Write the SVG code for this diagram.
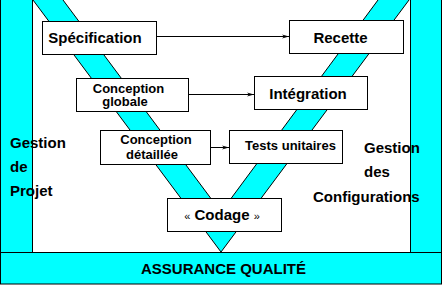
<svg xmlns="http://www.w3.org/2000/svg" width="443" height="285" viewBox="0 0 443 285">
<defs>
<style>
.band{fill:#00ffff;stroke:#000;stroke-width:1}
.box{fill:#fff;stroke:#000;stroke-width:1}
.edge{fill:none;stroke:#000;stroke-width:1}
.big{font-family:"Liberation Sans",Arial,sans-serif;font-weight:bold;font-size:15px;fill:#000}
.small{font-family:"Liberation Sans",Arial,sans-serif;font-weight:bold;font-size:13px;fill:#000}
.mid{text-anchor:middle}
.guil{font-size:11px;font-weight:normal}
.conn{stroke:#000;stroke-width:1;fill:none;marker-end:url(#arr)}
</style>
<marker id="arr" markerUnits="userSpaceOnUse" markerWidth="8" markerHeight="6" refX="7" refY="3" orient="auto">
<path d="M0,1 L7,3 L0,5 L2,3 z" fill="#000"/>
</marker>
</defs>
<rect width="443" height="285" fill="#fff"/>
<g id="gestion-projet-bar"><rect class="band" x="0.5" y="-1" width="32" height="253.5"/></g>
<g id="gestion-config-bar"><rect class="band" x="410.5" y="-1" width="31" height="253.5"/></g>
<g id="v-shape">
<polygon points="33,0 63,0 221,212 378,0 409,0 221,252" fill="#00ffff"/>
<polyline class="edge" points="33,0 221,252 409,0"/>
<polyline class="edge" points="63,0 221,212 378,0"/>
</g>
<g id="assurance-qualite">
<rect class="band" x="0.5" y="252.5" width="441" height="31.5"/>
<text class="big mid" x="223.5" y="274">ASSURANCE QUALITÉ</text>
</g>
<g id="connectors">
<line class="conn" x1="157" y1="36.5" x2="289" y2="36.5"/>
<line class="conn" x1="189" y1="94.5" x2="254" y2="94.5"/>
<line class="conn" x1="211" y1="147.5" x2="229" y2="147.5"/>
</g>
<g id="specification">
<rect class="box" x="42.5" y="21.5" width="114" height="33"/>
<text class="big mid" x="95" y="42.5">Spécification</text>
</g>
<g id="recette">
<rect class="box" x="289.5" y="20.5" width="114" height="33"/>
<text class="big mid" x="340.5" y="43">Recette</text>
</g>
<g id="conception-globale">
<rect class="box" x="76.5" y="78.5" width="112" height="33"/>
<text class="small mid" x="128.5" y="92.5">Conception</text>
<text class="small mid" x="125" y="106">globale</text>
</g>
<g id="integration">
<rect class="box" x="254.5" y="76.5" width="113" height="33"/>
<text class="big mid" x="308" y="98.5">Intégration</text>
</g>
<g id="conception-detaillee">
<rect class="box" x="100.5" y="130.5" width="110" height="34"/>
<text class="small mid" x="156" y="143.5">Conception</text>
<text class="small mid" x="152" y="159">détaillée</text>
</g>
<g id="tests-unitaires">
<rect class="box" x="229.5" y="130.5" width="113" height="33"/>
<text class="small mid" x="290.5" y="149.5">Tests unitaires</text>
</g>
<g id="codage">
<rect class="box" x="167.5" y="198.5" width="114" height="33"/>
<text class="big mid" x="222" y="220"><tspan class="guil">«</tspan> Codage <tspan class="guil">»</tspan></text>
</g>
<g id="label-gestion-projet">
<text class="big" x="10" y="148">Gestion</text>
<text class="big" x="10" y="172">de</text>
<text class="big" x="10" y="196">Projet</text>
</g>
<g id="label-gestion-config">
<text class="big" x="364" y="153">Gestion</text>
<text class="big" x="364" y="177">des</text>
<text class="big" x="313" y="202">Configurations</text>
</g>
</svg>
